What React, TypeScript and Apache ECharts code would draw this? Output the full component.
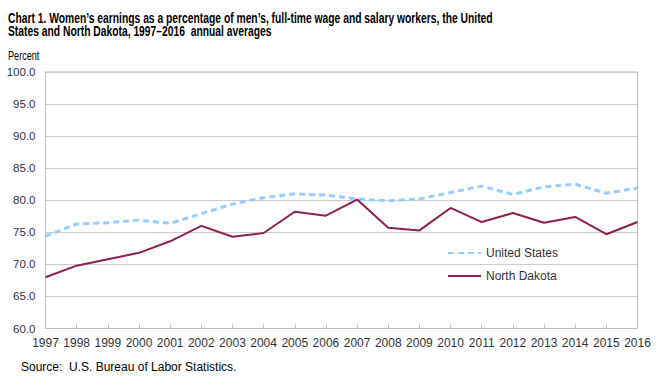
import React, { useEffect, useRef } from "react";
import * as echarts from "echarts";

const years = ["1997","1998","1999","2000","2001","2002","2003","2004","2005","2006","2007","2008","2009","2010","2011","2012","2013","2014","2015","2016"];
const unitedStates = [74.4, 76.3, 76.5, 76.9, 76.4, 77.9, 79.4, 80.4, 81.0, 80.8, 80.2, 79.9, 80.2, 81.2, 82.2, 80.9, 82.1, 82.5, 81.1, 81.9];
const northDakota = [68.0, 69.8, 70.8, 71.8, 73.6, 76.0, 74.3, 74.9, 78.2, 77.6, 80.1, 75.7, 75.3, 78.8, 76.6, 78.0, 76.5, 77.4, 74.7, 76.6];

const titleLine1 = "Chart 1. Women\u2019s earnings as a percentage of men\u2019s, full-time wage and salary workers, the United";
const titleLine2 = "States and North Dakota, 1997\u20132016  annual averages";
const sans = "'Liberation Sans', Arial, sans-serif";

export default function App() {
  const ref = useRef<HTMLDivElement>(null);
  useEffect(() => {
    document.body.style.margin = "0";
    const chart = echarts.init(ref.current!, null, { renderer: "svg" });
    chart.setOption({
      animation: false,
      backgroundColor: "#ffffff",
      graphic: [
        { type: "text", x: 8, y: 25.5, scaleX: 0.737, style: { text: titleLine1, font: `bold 14px ${sans}`, fill: "#000", textVerticalAlign: "bottom" } },
        { type: "text", x: 8, y: 38.5, scaleX: 0.737, style: { text: titleLine2, font: `bold 14px ${sans}`, fill: "#000", textVerticalAlign: "bottom" } },
        { type: "text", x: 8, y: 61, scaleX: 0.76, style: { text: "Percent", font: `12px ${sans}`, fill: "#000", textVerticalAlign: "bottom" } },
        { type: "text", left: 21, top: 361, style: { text: "Source:  U.S. Bureau of Labor Statistics.", font: `12px ${sans}`, fill: "#000" } },
      ],
      legend: {
        orient: "vertical",
        left: 447,
        top: 247,
        padding: 0,
        itemWidth: 33,
        itemHeight: 12,
        itemGap: 11,
        itemStyle: { opacity: 0 },
        textStyle: { fontFamily: sans, fontSize: 12, color: "#333", padding: [0, 0, 0, 0] },
        data: ["United States", "North Dakota"],
      },
      grid: {
        left: 45.5,
        right: 30.5,
        top: 72,
        bottom: 57.5,
        show: true,
        borderColor: "#b8b8b8",
        borderWidth: 1,
      },
      xAxis: {
        type: "category",
        data: years,
        boundaryGap: false,
        axisLine: { lineStyle: { color: "#c0c0c0" } },
        axisTick: { show: true, inside: true, length: 4, interval: 0, lineStyle: { color: "#c0c0c0" } },
        axisLabel: { fontFamily: sans, fontSize: 12, color: "#333", margin: 8, interval: 0, hideOverlap: false },
        splitLine: { show: false },
      },
      yAxis: {
        type: "value",
        min: 60,
        max: 100,
        interval: 5,
        axisLine: { show: true, lineStyle: { color: "#c0c0c0" } },
        axisTick: { show: false },
        axisLabel: { fontFamily: sans, fontSize: 11.5, color: "#333", margin: 10, formatter: (v: number) => v.toFixed(1) },
        splitLine: { show: true, lineStyle: { color: "#cccccc", width: 1 } },
      },
      series: [
        {
          name: "United States",
          type: "line",
          data: unitedStates,
          symbol: "none",
          lineStyle: { color: "#99ccff", width: 3, type: [6, 4] },
          itemStyle: { color: "#99ccff" },
        },
        {
          name: "North Dakota",
          type: "line",
          data: northDakota,
          symbol: "none",
          lineStyle: { color: "#8e1f52", width: 2 },
          itemStyle: { color: "#8e1f52" },
        },
      ],
    });
    return () => chart.dispose();
  }, []);
  return <div ref={ref} style={{ width: 668, height: 386 }} />;
}
